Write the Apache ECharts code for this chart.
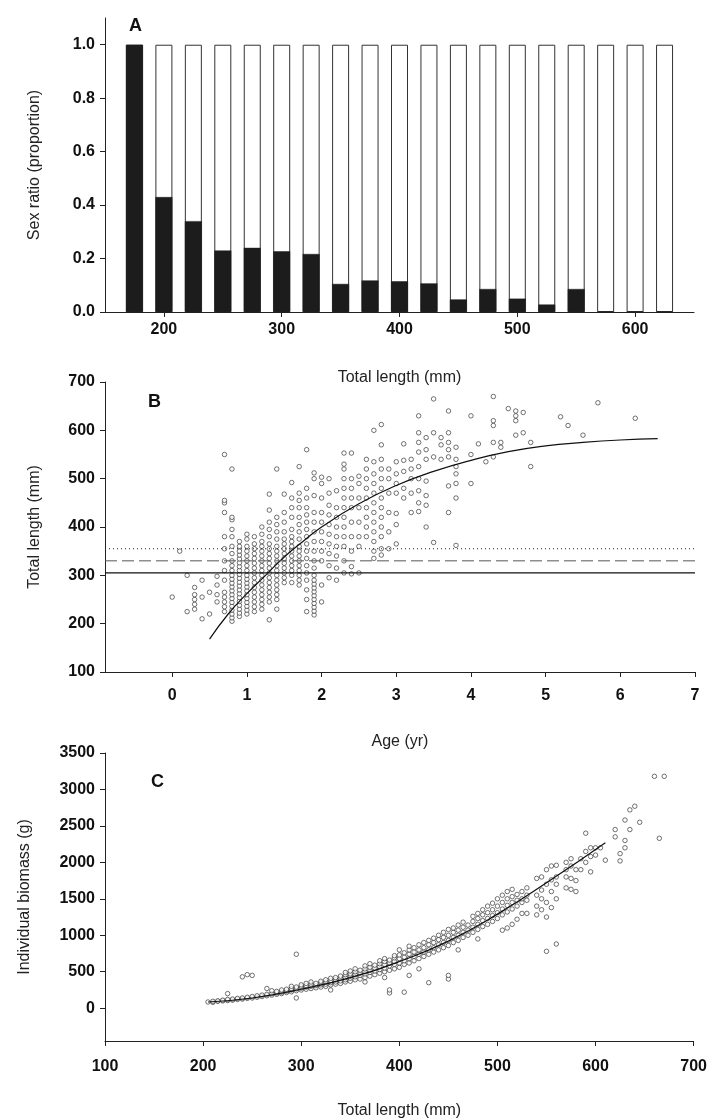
<!DOCTYPE html>
<html>
<head>
<meta charset="utf-8">
<script src="https://cdn.jsdelivr.net/npm/echarts@6/dist/echarts.min.js"></script>
<style>html,body{margin:0;background:#fff}#c{width:710px;height:1120px}</style>
</head>
<body>
<div id="c"></div>
<script>
// ---------- Panel A: sex ratio by length class ----------
const lengthClasses = [175, 200, 225, 250, 275, 300, 325, 350, 375, 400, 425, 450, 475, 500, 525, 550, 575, 600, 625];
const maleRatio = [1.0, 0.43, 0.34, 0.23, 0.24, 0.227, 0.217, 0.105, 0.118, 0.115, 0.107, 0.047, 0.086, 0.05, 0.028, 0.086, 0, 0, 0];

// ---------- Panel B: length at age ----------
const ageColumns = [
  { age: 0.0, tl: [255] }, { age: 0.1, tl: [350] }, { age: 0.2, tl: [225, 300] },
  { age: 0.3, tl: [230, 240, 250, 260, 275] }, { age: 0.4, tl: [210, 255, 290] },
  { age: 0.5, tl: [220, 265] }, { age: 0.6, tl: [245, 260, 280, 298] },
  { age: 0.7, tl: [225, 235, 245, 255, 265, 290, 310, 330, 355, 380, 430, 450, 455, 550] },
  { age: 0.8, tl: [205, 212, 220, 228, 236, 244, 252, 260, 268, 276, 284, 292, 300, 310, 320, 330, 345, 360, 380, 395, 415, 420, 520] },
  { age: 0.9, tl: [215, 222, 230, 238, 246, 254, 262, 270, 278, 286, 294, 302, 310, 318, 326, 334, 342, 350, 360, 370] },
  { age: 1.0, tl: [220, 228, 236, 244, 252, 260, 268, 276, 284, 292, 300, 310, 320, 330, 340, 350, 360, 375, 385] },
  { age: 1.1, tl: [225, 235, 245, 255, 265, 275, 285, 295, 305, 315, 325, 335, 345, 355, 365, 380] },
  { age: 1.2, tl: [230, 240, 250, 260, 270, 280, 290, 300, 310, 320, 330, 340, 350, 360, 370, 385, 400] },
  { age: 1.3, tl: [208, 245, 255, 265, 275, 285, 295, 305, 315, 325, 335, 345, 355, 365, 380, 395, 410, 435, 468] },
  { age: 1.4, tl: [230, 250, 260, 270, 280, 290, 300, 310, 320, 330, 340, 350, 360, 375, 390, 405, 420, 520] },
  { age: 1.5, tl: [285, 295, 305, 315, 325, 335, 345, 355, 365, 375, 390, 410, 430, 468] },
  { age: 1.6, tl: [285, 300, 310, 320, 330, 340, 350, 360, 370, 380, 395, 420, 440, 460, 492] },
  { age: 1.7, tl: [280, 290, 300, 310, 320, 330, 340, 350, 360, 375, 390, 405, 420, 440, 455, 470, 525] },
  { age: 1.8, tl: [225, 250, 270, 290, 305, 320, 335, 350, 365, 380, 395, 410, 425, 440, 460, 480, 560] },
  { age: 1.9, tl: [218, 226, 234, 242, 250, 258, 266, 274, 282, 290, 300, 315, 330, 350, 370, 390, 410, 430, 465, 500, 512] },
  { age: 2.0, tl: [245, 280, 330, 350, 370, 390, 410, 430, 460, 490, 503] },
  { age: 2.1, tl: [295, 320, 345, 365, 385, 405, 425, 445, 470, 500] },
  { age: 2.2, tl: [290, 315, 340, 360, 380, 400, 420, 440, 475] },
  { age: 2.3, tl: [305, 330, 360, 380, 400, 420, 440, 460, 480, 500, 520, 530, 553] },
  { age: 2.4, tl: [303, 318, 350, 380, 410, 440, 460, 480, 500, 553] },
  { age: 2.5, tl: [305, 360, 380, 410, 440, 460, 490, 505] },
  { age: 2.6, tl: [380, 400, 420, 440, 460, 480, 500, 520, 540] },
  { age: 2.7, tl: [335, 350, 370, 390, 410, 430, 450, 470, 490, 510, 535, 600] },
  { age: 2.8, tl: [342, 355, 380, 400, 420, 440, 460, 480, 500, 520, 540, 570, 612] },
  { age: 2.9, tl: [355, 390, 430, 470, 500, 520] },
  { age: 3.0, tl: [365, 405, 428, 470, 490, 510, 535] },
  { age: 3.1, tl: [460, 480, 515, 538, 572] },
  { age: 3.2, tl: [430, 470, 500, 520, 540] },
  { age: 3.3, tl: [432, 450, 475, 500, 525, 555, 575, 595, 630] },
  { age: 3.4, tl: [400, 445, 465, 495, 540, 560, 585] },
  { age: 3.5, tl: [368, 545, 595, 665] },
  { age: 3.6, tl: [540, 570, 585] },
  { age: 3.7, tl: [430, 485, 545, 560, 575, 595, 640] },
  { age: 3.8, tl: [362, 460, 490, 510, 525, 540, 565] },
  { age: 4.0, tl: [490, 550, 630] }, { age: 4.1, tl: [572] }, { age: 4.2, tl: [535] },
  { age: 4.3, tl: [545, 575, 610, 620, 670] }, { age: 4.4, tl: [565, 575] },
  { age: 4.5, tl: [645] }, { age: 4.6, tl: [590, 620, 630, 640] }, { age: 4.7, tl: [595, 637] },
  { age: 4.8, tl: [525, 575] }, { age: 5.2, tl: [628] }, { age: 5.3, tl: [610] },
  { age: 5.5, tl: [590] }, { age: 5.7, tl: [657] }, { age: 6.2, tl: [625] }
];
const vbgfCurve = [[0.5, 168], [0.75, 220], [1, 262], [1.25, 300], [1.5, 338], [1.75, 370], [2, 400], [2.5, 448], [3, 486], [3.5, 515], [4, 538], [4.5, 556], [5, 568], [5.5, 575], [6, 580], [6.5, 583]];
const refLines = { dotted: 355, dashed: 330, solid: 305 };

// ---------- Panel C: length-weight ----------
const lwColumns = {
  205: [85], 210: [80, 95], 215: [95, 100], 220: [100, 110], 225: [105, 120, 200], 230: [110, 125],
  235: [120, 135], 240: [125, 140, 430], 245: [135, 150, 460], 250: [140, 160, 450], 255: [150, 170],
  260: [160, 180], 265: [170, 190, 270], 270: [180, 200, 240], 275: [190, 210, 230], 280: [200, 220, 250],
  285: [215, 235, 260], 290: [225, 250, 270, 300], 295: [140, 240, 265, 290, 740], 300: [250, 275, 300, 320],
  305: [260, 290, 310, 340], 310: [270, 300, 330, 360], 315: [280, 310, 340], 320: [290, 320, 350, 370],
  325: [300, 330, 360, 390], 330: [250, 320, 350, 380, 410], 335: [330, 360, 390, 420], 340: [340, 375, 410, 440],
  345: [360, 390, 420, 460, 490], 350: [370, 410, 440, 470, 510], 355: [390, 430, 460, 500, 540],
  360: [400, 450, 480, 520], 365: [360, 420, 470, 500, 540, 580], 370: [440, 490, 520, 560, 610],
  375: [460, 510, 550, 590], 380: [480, 530, 570, 610, 650], 385: [420, 500, 550, 600, 640, 680],
  390: [210, 250, 520, 580, 620, 660], 395: [540, 600, 640, 690, 720], 400: [560, 620, 680, 730, 800],
  405: [220, 600, 650, 700, 760], 410: [450, 620, 680, 740, 800, 850], 415: [650, 710, 770, 830],
  420: [540, 680, 740, 800, 870], 425: [710, 770, 830, 900], 430: [350, 740, 800, 870, 930],
  435: [770, 830, 900, 960], 440: [800, 870, 940, 1000], 445: [830, 900, 970, 1040],
  450: [400, 450, 860, 930, 1000, 1080], 455: [900, 970, 1040, 1100], 460: [800, 930, 1000, 1070, 1140],
  465: [970, 1040, 1110, 1180], 470: [1000, 1070, 1140], 475: [1040, 1110, 1190, 1260],
  480: [950, 1080, 1150, 1230, 1300], 485: [1120, 1200, 1280, 1350], 490: [1150, 1230, 1310, 1400],
  495: [1190, 1270, 1350, 1440], 500: [1230, 1310, 1400, 1500], 505: [1070, 1280, 1360, 1450, 1550],
  510: [1100, 1320, 1410, 1500, 1600], 515: [1150, 1360, 1450, 1530, 1630], 520: [1220, 1400, 1480, 1560],
  525: [1300, 1450, 1500, 1600], 530: [1300, 1480, 1550, 1650], 540: [1280, 1400, 1550, 1780],
  545: [1350, 1500, 1620, 1800], 550: [780, 1250, 1450, 1700, 1900], 555: [1380, 1600, 1760, 1950],
  560: [880, 1500, 1700, 1800, 1960], 570: [1650, 1800, 1900, 2000], 575: [1630, 1780, 1950, 2050],
  580: [1600, 1750, 1900], 585: [1900, 2050], 590: [2000, 2150, 2400], 595: [1870, 2080, 2200],
  600: [2100, 2200], 605: [2200], 610: [2030], 620: [2350, 2450], 625: [2120, 2020],
  630: [2200, 2300, 2580], 635: [2450, 2720], 640: [2770], 645: [2550], 660: [3180], 665: [2330], 670: [3180]
};
const lwCurve = [[205, 85], [250, 140], [300, 260], [350, 420], [400, 640], [450, 920], [500, 1290], [550, 1720], [610, 2270]];

const ptsB = [];
ageColumns.forEach(c => c.tl.forEach(v => ptsB.push([c.age, v])));
const ptsC = [];
Object.keys(lwColumns).forEach(k => lwColumns[k].forEach(v => ptsC.push([+k, v])));

const FONT = "'Liberation Sans Narrow', 'Liberation Sans', Arial, sans-serif";
const tickLabel = { color: '#111', fontFamily: FONT, fontWeight: 'bold', fontSize: 16, margin: 10, formatter: v => String(v) };
const axLine = { show: true, onZero: false, lineStyle: { color: '#222', width: 1 } };
const tick = { show: true, inside: false, length: 5, lineStyle: { color: '#222' } };
const nameStyle = { color: '#222', fontFamily: "'Liberation Sans', Arial, sans-serif", fontSize: 16 };
const circle = { color: '#fff', borderColor: '#222', borderWidth: 0.8 };

const chart = echarts.init(document.getElementById('c'));
chart.setOption({
  animation: false,
  grid: [
    { left: 105, right: 16, top: 18, bottom: 808 },
    { left: 105, right: 15, top: 382, bottom: 448 },
    { left: 105, right: 15, top: 753, bottom: 77 }
  ],
  title: [
    { text: 'A', left: 124, top: 12, textStyle: { fontFamily: FONT, fontSize: 18, fontWeight: 'bold', color: '#111' } },
    { text: 'B', left: 143, top: 388, textStyle: { fontFamily: FONT, fontSize: 18, fontWeight: 'bold', color: '#111' } },
    { text: 'C', left: 146, top: 768, textStyle: { fontFamily: FONT, fontSize: 18, fontWeight: 'bold', color: '#111' } }
  ],
  xAxis: [
    { gridIndex: 0, type: 'value', min: 150, max: 650, axisLine: axLine, axisTick: { ...tick, customValues: [200, 300, 400, 500, 600] },
      axisLabel: { ...tickLabel, customValues: [200, 300, 400, 500, 600] }, splitLine: { show: false },
      name: 'Total length (mm)', nameLocation: 'middle', nameGap: 58, nameTextStyle: nameStyle },
    { gridIndex: 1, type: 'value', min: -0.9, max: 7, axisLine: axLine, axisTick: { ...tick, customValues: [0, 1, 2, 3, 4, 5, 6, 7] },
      axisLabel: { ...tickLabel, margin: 16, customValues: [0, 1, 2, 3, 4, 5, 6, 7] }, splitLine: { show: false },
      name: 'Age (yr)', nameLocation: 'middle', nameGap: 62, nameTextStyle: nameStyle },
    { gridIndex: 2, type: 'value', min: 100, max: 700, interval: 100, axisLine: axLine, axisTick: tick,
      axisLabel: { ...tickLabel, margin: 18 }, splitLine: { show: false },
      name: 'Total length (mm)', nameLocation: 'middle', nameGap: 62, nameTextStyle: nameStyle }
  ],
  yAxis: [
    { gridIndex: 0, type: 'value', min: 0, max: 1.1, axisLine: axLine, axisTick: { ...tick, customValues: [0, 0.2, 0.4, 0.6, 0.8, 1.0] },
      axisLabel: { ...tickLabel, customValues: [0, 0.2, 0.4, 0.6, 0.8, 1.0], formatter: v => v.toFixed(1) }, splitLine: { show: false },
      name: 'Sex ratio (proportion)', nameLocation: 'middle', nameGap: 62, nameTextStyle: nameStyle },
    { gridIndex: 1, type: 'value', min: 100, max: 700, interval: 100, axisLine: axLine, axisTick: tick,
      axisLabel: tickLabel, splitLine: { show: false },
      name: 'Total length (mm)', nameLocation: 'middle', nameGap: 62, nameTextStyle: nameStyle },
    { gridIndex: 2, type: 'value', min: -450, max: 3500, axisLine: axLine,
      axisTick: { ...tick, customValues: [0, 500, 1000, 1500, 2000, 2500, 3000, 3500] },
      axisLabel: { ...tickLabel, customValues: [0, 500, 1000, 1500, 2000, 2500, 3000, 3500] }, splitLine: { show: false },
      name: 'Individual biomass (g)', nameLocation: 'middle', nameGap: 72, nameTextStyle: nameStyle }
  ],
  series: [
    { type: 'bar', xAxisIndex: 0, yAxisIndex: 0, barWidth: 17, barGap: '-100%',
      data: lengthClasses.map(x => [x, 1]),
      itemStyle: { color: '#fff', borderColor: '#333', borderWidth: 1 } },
    { type: 'bar', xAxisIndex: 0, yAxisIndex: 0, barWidth: 17, barGap: '-100%',
      data: lengthClasses.map((x, i) => [x, maleRatio[i]]),
      itemStyle: { color: '#1c1c1c', borderColor: '#1c1c1c', borderWidth: 0.5 } },

    { type: 'scatter', xAxisIndex: 1, yAxisIndex: 1, data: ptsB, symbolSize: 4.5, itemStyle: circle },
    { type: 'line', xAxisIndex: 1, yAxisIndex: 1, data: vbgfCurve, smooth: true, symbol: 'none', lineStyle: { color: '#111', width: 1.2 } },
    { type: 'line', xAxisIndex: 1, yAxisIndex: 1, data: [[-0.9, refLines.dotted], [7, refLines.dotted]], symbol: 'none', lineStyle: { color: '#222', width: 1.2, type: [1, 3] } },
    { type: 'line', xAxisIndex: 1, yAxisIndex: 1, data: [[-0.9, refLines.dashed], [7, refLines.dashed]], symbol: 'none', lineStyle: { color: '#555', width: 1, type: [12, 5] } },
    { type: 'line', xAxisIndex: 1, yAxisIndex: 1, data: [[-0.9, refLines.solid], [7, refLines.solid]], symbol: 'none', lineStyle: { color: '#111', width: 1.2 } },

    { type: 'scatter', xAxisIndex: 2, yAxisIndex: 2, data: ptsC, symbolSize: 4.5, itemStyle: circle },
    { type: 'line', xAxisIndex: 2, yAxisIndex: 2, data: lwCurve, smooth: true, symbol: 'none', lineStyle: { color: '#111', width: 1.2 } }
  ]
});
</script>
</body>
</html>
